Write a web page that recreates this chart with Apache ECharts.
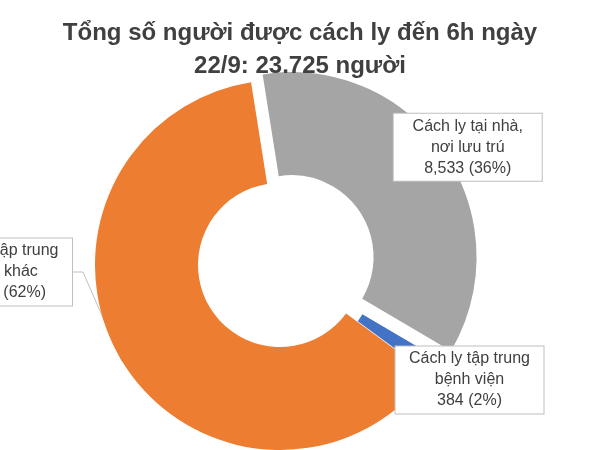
<!DOCTYPE html>
<html><head><meta charset="utf-8">
<script src="https://cdn.jsdelivr.net/npm/echarts@6/dist/echarts.min.js"></script>
<style>html,body{margin:0;padding:0;background:#fff}#c{width:600px;height:450px}</style>
</head><body><div id="c"></div>
<script>
const categories = ['Cách ly tại nhà,\nnơi lưu trú', 'Cách ly tập trung\nbệnh viện', 'Cách ly tập trung\ncơ sở khác'];
const values = [8533, 384, 14808];
const percents = ['36%', '2%', '62%'];
const valueLabels = ['8,533', '384', '14,808'];
const colors = ['#a5a5a5', '#4472c4', '#ed7d31'];
const labelPos = [[540, 157], [546, 377], [-2, 272]];
const chart = echarts.init(document.getElementById('c'));
chart.setOption({
  animation: false,
  title: {
    text: 'Tổng số người được cách ly đến 6h ngày\n22/9: 23.725 người',
    left: 'center', top: 12,
    textStyle: { fontFamily: 'Liberation Sans', fontSize: 24, fontWeight: 'bold', color: '#404040', lineHeight: 33 }
  },
  series: [{
    type: 'pie',
    center: [280, 265],
    radius: [82, 185],
    startAngle: 99,
    selectedMode: 'multiple',
    selectedOffset: 14,
    data: categories.map((c, i) => ({
      name: c, value: values[i], selected: i < 2,
      itemStyle: { color: colors[i] }
    })),
    label: {
      show: true,
      formatter: p => p.name + '\n' + valueLabels[p.dataIndex] + ' (' + percents[p.dataIndex] + ')',
      fontFamily: 'Liberation Sans', fontSize: 16, color: '#404040', lineHeight: 21,
      align: 'center', backgroundColor: '#fff', borderColor: '#bfbfbf', borderWidth: 1,
      padding: [2, 4], overflow: 'none', width: 140
    },
    labelLine: { show: true, length: 10, length2: 10, lineStyle: { color: '#bfbfbf', width: 1 } },
    labelLayout: p => ({ x: labelPos[p.dataIndex][0], y: labelPos[p.dataIndex][1], align: 'center', verticalAlign: 'middle' })
  }]
});
</script></body></html>
